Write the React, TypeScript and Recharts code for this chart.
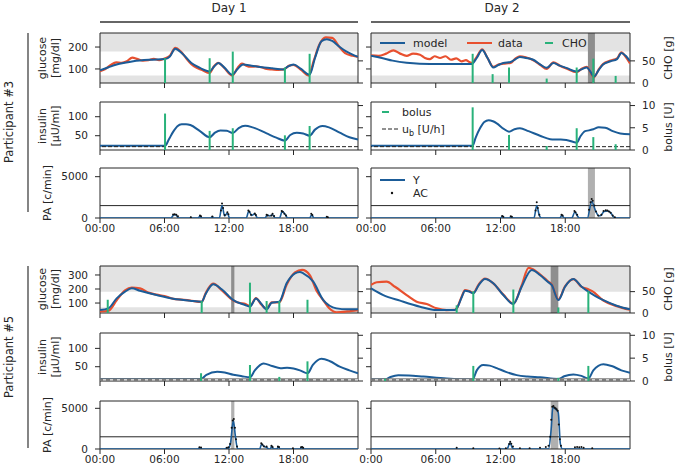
import React from "react";
import {
  ComposedChart,
  Line,
  XAxis,
  YAxis,
  ReferenceArea,
  ReferenceLine,
} from "recharts";

type Pt = [number, number];

const HOURS = [0, 6, 12, 18];
const HOUR_LABELS = ["00:00", "06:00", "12:00", "18:00"];
const HOUR_LABELS_P5D2 = ["0:00", "06:00", "12:00", "18:00"];

// ---- Participant #3, day 1 ----
const p3d1Model: Pt[] = [
  [0, 94], [0.8, 108], [1.55, 120], [2.3, 128], [3.1, 135], [4.65, 142], [6.05, 145],
  [6.5, 157], [7.0, 192], [7.6, 173], [8.5, 127], [9.3, 105], [10.2, 89], [10.6, 110],
  [11.0, 127], [11.6, 105], [12.3, 74], [12.8, 100], [13.3, 120], [14.1, 115], [14.9, 109],
  [16, 103], [17.05, 98], [17.5, 112], [18.0, 120], [18.7, 100], [19.5, 74], [20.0, 150],
  [20.6, 226], [21.1, 236], [21.6, 228], [22.3, 200], [22.9, 180], [23.5, 165], [24, 155],
];
const p3d1Data: Pt[] = [
  [0, 90], [0.5, 100], [1.0, 118], [1.5, 130], [2.0, 128], [2.5, 135], [3.0, 152], [3.5, 145],
  [4.0, 138], [4.5, 140], [5.0, 146], [5.5, 140], [6.0, 148], [6.5, 160], [7.0, 196], [7.5, 180],
  [8.0, 150], [8.5, 122], [9.0, 105], [9.5, 95], [10.2, 82], [10.6, 112], [11.0, 128], [11.5, 108],
  [12.3, 70], [12.8, 105], [13.2, 125], [13.6, 115], [14.0, 110], [14.5, 112], [15.0, 108],
  [15.5, 100], [16.0, 98], [16.6, 96], [17.1, 98], [17.6, 115], [18.0, 118], [18.7, 96],
  [19.4, 70], [19.9, 140], [20.4, 210], [21.0, 244], [21.6, 242], [22.2, 205], [22.8, 172],
  [23.5, 160], [24, 155],
];
const p3d1Cho: Pt[] = [[6.05, 56], [10.2, 56], [12.35, 71], [17.2, 35], [19.5, 66]];
const p3d1Insulin: Pt[] = [
  [0, 23.7], [6.05, 23.7], [6.4, 40], [6.8, 60], [7.2, 75], [7.6, 80], [8.0, 80], [8.4, 78],
  [9.3, 62], [10.2, 46], [10.7, 58], [11.2, 64], [11.8, 63], [12.35, 57], [12.9, 70], [13.5, 76],
  [14.2, 72], [15.5, 56], [16.4, 45], [17.2, 37], [17.7, 52], [18.3, 58], [18.9, 56], [19.5, 50],
  [20.0, 66], [20.7, 75.6], [21.3, 72], [22.3, 58], [23.2, 46], [24, 40],
];
const p3d1Bolus: Pt[] = [[6.05, 8.2], [10.2, 4.3], [12.35, 4.9], [17.2, 3.3], [19.5, 5.4]];
const p3d1PaY: Pt[] = [
  [0, 0], [6.6, 0], [6.85, 350], [7.05, 400], [7.3, 0], [8.35, 0], [8.45, 80], [8.55, 0],
  [9.15, 0], [9.3, 250], [9.45, 0], [10.3, 0], [10.45, 150], [10.6, 0], [11.1, 0], [11.35, 1500],
  [11.6, 250], [11.85, 600], [12.05, 0], [13.6, 0], [13.85, 850], [14.1, 300], [14.4, 500],
  [14.65, 0], [15.35, 0], [15.55, 350], [15.8, 250], [16.05, 400], [16.3, 0], [16.7, 0],
  [16.95, 800], [17.25, 400], [17.45, 0], [19.5, 0], [19.7, 400], [19.9, 0], [20.95, 0],
  [21.1, 100], [21.25, 0], [24, 0],
];
const p3d1PaAc: Pt[] = [
  [6.8, 420], [6.95, 450], [7.1, 380], [7.25, 200], [8.45, 100], [9.3, 300], [9.4, 200],
  [10.45, 180], [11.25, 900], [11.35, 1750], [11.45, 1200], [11.6, 350], [11.85, 700],
  [11.95, 450], [13.8, 900], [13.9, 750], [14.05, 400], [14.4, 550], [14.5, 350], [15.5, 400],
  [15.6, 300], [15.95, 300], [16.05, 500], [16.2, 250], [16.9, 850], [17.0, 750], [17.15, 500],
  [17.3, 300], [19.65, 500], [19.75, 350], [21.1, 150], [21.2, 100],
];

// ---- Participant #3, day 2 ----
const p3d2Model: Pt[] = [
  [0, 160], [1, 150], [2, 138], [3.3, 128], [4.5, 124], [6.4, 123], [8, 123], [9.33, 123],
  [9.8, 150], [10.3, 186], [10.8, 150], [11.33, 107], [11.8, 118], [12.26, 127], [12.94, 132],
  [13.4, 145], [13.8, 155], [14.4, 150], [15.04, 142], [15.7, 120], [16.28, 105], [16.9, 127],
  [17.5, 115], [18.1, 105], [19.06, 89], [19.5, 98], [20.0, 107], [20.3, 90], [20.66, 66],
  [21.1, 95], [21.5, 120], [22.2, 135], [22.8, 145], [23.2, 173], [23.6, 160], [24, 135],
];
const p3d2Data: Pt[] = [
  [0, 162], [0.7, 160], [1.4, 170], [2.07, 185], [2.7, 170], [3.3, 160], [3.9, 170], [4.54, 165],
  [5.0, 150], [5.47, 145], [5.9, 158], [6.4, 150], [6.9, 158], [7.4, 142], [7.9, 148], [8.4, 135],
  [8.8, 140], [9.1, 132], [9.33, 128], [9.8, 155], [10.3, 190], [10.8, 150], [11.33, 110],
  [11.8, 120], [12.26, 124], [12.94, 128], [13.4, 148], [13.8, 158], [14.4, 152], [15.04, 140],
  [15.7, 118], [16.28, 100], [16.9, 130], [17.5, 115], [18.1, 102], [19.06, 85], [19.5, 100],
  [20.0, 110], [20.3, 88], [20.66, 62], [21.1, 98], [21.5, 122], [22.2, 138], [22.8, 148],
  [23.2, 176], [23.6, 155], [24, 125],
];
const p3d2Cho: Pt[] = [[9.42, 66], [11.27, 20], [12.79, 35], [16.28, 10], [19.06, 35], [20.6, 55], [22.67, 16]];
const p3d2Insulin: Pt[] = [
  [0, 23.7], [9.42, 23.7], [9.7, 45], [10.1, 69.5], [10.5, 86], [10.9, 91], [11.3, 88],
  [11.65, 82.6], [12.3, 68], [12.79, 60.5], [13.3, 67], [13.8, 69.5], [14.6, 62], [15.66, 50],
  [16.6, 41], [17.3, 40], [18.1, 39], [19.06, 31.6], [19.4, 48], [19.84, 62], [20.2, 64],
  [20.6, 67], [21.1, 72], [21.7, 71], [22.4, 62], [23.1, 56], [24, 54],
];
const p3d2Bolus: Pt[] = [[9.42, 9.6], [12.79, 3.4], [16.28, 0.9], [19.06, 4.9], [20.6, 2.9], [22.67, 1.3]];
const p3d2PaY: Pt[] = [
  [0, 0], [12.0, 0], [12.2, 200], [12.4, 0], [12.8, 0], [13.0, 150], [13.2, 0], [15.1, 0],
  [15.36, 1500], [15.6, 300], [15.8, 0], [17.5, 0], [17.7, 350], [17.9, 0], [18.6, 0],
  [18.9, 750], [19.1, 300], [19.3, 0], [20.05, 0], [20.45, 2000], [20.8, 900], [21.1, 250],
  [21.3, 300], [21.6, 800], [21.95, 850], [22.2, 650], [22.5, 100], [22.7, 0], [24, 0],
];
const p3d2PaAc: Pt[] = [
  [12.15, 250], [12.25, 150], [12.95, 200], [13.05, 150], [15.25, 900], [15.36, 1900],
  [15.45, 1200], [15.6, 400], [17.65, 400], [17.75, 300], [18.85, 850], [18.95, 700],
  [19.1, 400], [20.2, 1000], [20.35, 1900], [20.45, 2300], [20.55, 2100], [20.7, 1500],
  [20.85, 800], [21.05, 300], [21.35, 400], [21.55, 850], [21.75, 950], [21.9, 900],
  [22.05, 800], [22.2, 650], [22.4, 300], [22.6, 100],
];
const p3d2Exercise: Pt = [20.1, 20.75];

// ---- Participant #5, day 1 ----
const p5d1Model: Pt[] = [
  [0, 50], [0.78, 62], [1.55, 133], [2.33, 181], [2.95, 205], [3.72, 188], [5.27, 157],
  [6.82, 131], [8.37, 117], [9.46, 110], [9.8, 160], [10.08, 198], [10.54, 234], [11.32, 198],
  [12.4, 121], [13.49, 86], [13.95, 74], [14.51, 133], [15.0, 95], [15.5, 55], [15.97, 102],
  [16.68, 110], [17.36, 241], [18.14, 312], [18.6, 322], [18.91, 312], [19.84, 252],
  [20.77, 121], [22.0, 62], [23, 55], [24, 55],
];
const p5d1Data: Pt[] = [
  [0, 40], [0.78, 45], [1.55, 120], [2.33, 190], [2.95, 210], [3.72, 205], [4.5, 175],
  [5.27, 160], [6.0, 150], [6.82, 130], [7.6, 125], [8.37, 118], [9.46, 108], [9.8, 165],
  [10.08, 205], [10.54, 238], [11.32, 192], [12.4, 118], [13.0, 100], [13.49, 95], [13.95, 78],
  [14.51, 135], [15.0, 90], [15.5, 60], [15.97, 105], [16.68, 105], [17.36, 230], [18.14, 318],
  [18.8, 336], [19.5, 300], [20.2, 180], [20.77, 120], [21.3, 65], [22.0, 34], [23, 40], [24, 50],
];
const p5d1Cho: Pt[] = [[0.72, 31], [9.46, 28], [13.95, 71], [15.5, 28], [16.68, 28], [19.3, 31]];
const p5d1Insulin: Pt[] = [
  [0, 16.4], [9.4, 16.4], [9.9, 28], [10.9, 36], [11.6, 34], [12.4, 28], [13.2, 24], [13.95, 21],
  [14.4, 40], [15.2, 59], [16.0, 52], [16.8, 46], [17.4, 47], [18.0, 45], [18.6, 40], [19.3, 32],
  [19.8, 55], [20.6, 72], [21.4, 65], [22.3, 50], [23.2, 40], [24, 32],
];
const p5d1Bolus: Pt[] = [[9.4, 1.7], [13.95, 3.5], [16.68, 0.9], [19.3, 4.3]];
const p5d1PaY: Pt[] = [
  [0, 0], [9.1, 0], [9.3, 150], [9.5, 0], [11.6, 0], [11.8, 150], [11.95, 100], [12.15, 800],
  [12.4, 3500], [12.6, 1500], [12.8, 0], [14.85, 0], [15.04, 600], [15.25, 300], [15.5, 200],
  [15.7, 0], [15.85, 0], [15.97, 350], [16.15, 0], [16.45, 0], [16.6, 250], [16.75, 0],
  [18.6, 0], [18.76, 200], [18.95, 0], [24, 0],
];
const p5d1PaAc: Pt[] = [
  [9.25, 200], [9.4, 180], [11.8, 150], [11.95, 200], [12.1, 600], [12.25, 2600], [12.35, 3500],
  [12.45, 3700], [12.55, 2600], [12.65, 1200], [12.75, 300], [15.0, 700], [15.1, 550],
  [15.25, 350], [15.5, 300], [15.95, 400], [16.05, 250], [16.55, 300], [16.65, 250],
  [17.95, 100], [18.7, 200], [18.8, 250], [18.9, 150],
];
const p5d1Exercise: Pt = [12.2, 12.5];

// ---- Participant #5, day 2 ----
const p5d2Model: Pt[] = [
  [0, 205], [1.14, 157], [2.69, 117], [4.54, 74], [6.09, 50], [7.78, 50], [7.94, 62], [8.4, 140],
  [8.71, 188], [9.1, 182], [9.48, 169], [10.0, 230], [10.56, 271], [11.33, 241], [12.26, 157],
  [13.19, 93], [13.96, 216], [14.89, 336], [15.66, 300], [16.4, 250], [16.74, 229], [17.36, 121],
  [17.98, 216], [18.75, 271], [19.52, 216], [20.14, 181], [20.8, 150], [21.53, 121],
  [22.76, 81], [24, 55],
];
const p5d2Data: Pt[] = [
  [0, 229], [0.53, 248], [1.45, 252], [2.22, 216], [3.3, 157], [4.23, 110], [5.16, 93],
  [6.09, 62], [7.0, 50], [7.78, 52], [7.94, 62], [8.4, 145], [8.71, 192], [9.1, 185],
  [9.48, 172], [10.0, 235], [10.56, 275], [11.33, 240], [12.26, 160], [13.19, 96], [13.96, 225],
  [14.6, 350], [14.89, 345], [15.66, 305], [16.4, 255], [16.74, 232], [17.36, 125], [17.98, 218],
  [18.75, 270], [19.52, 215], [20.14, 198], [20.5, 185], [21.53, 118], [22.76, 78], [24, 52],
];
const p5d2Cho: Pt[] = [[7.94, 18], [9.48, 51], [13.19, 55], [17.36, 13], [20.14, 51]];
const p5d2Insulin: Pt[] = [
  [0, 15.5], [1.3, 15.5], [1.8, 22], [2.53, 27], [3.5, 26], [4.85, 23], [7.0, 18], [9.42, 15.5],
  [9.8, 40], [10.4, 55], [11.0, 53], [11.65, 46], [12.5, 36], [13.5, 27], [14.5, 23],
  [15.66, 21], [17.36, 16.4], [17.9, 24], [18.75, 29], [19.5, 25], [20.14, 18], [20.6, 40],
  [21.53, 57], [22.3, 52], [23.2, 40], [24, 33.6],
];
const p5d2Bolus: Pt[] = [[1.3, 0.5], [9.48, 3.3], [17.36, 0.7], [20.14, 3.3]];
const p5d2PaY: Pt[] = [
  [0, 0], [12.6, 0], [12.88, 750], [13.1, 150], [13.3, 0], [16.45, 0], [16.7, 2500],
  [16.85, 5100], [17.1, 4900], [17.35, 4500], [17.55, 600], [17.75, 0], [24, 0],
];
const p5d2PaAc: Pt[] = [
  [7.94, 150], [9.48, 80], [11.9, 60], [12.5, 100], [12.8, 600], [12.9, 900], [13.0, 650],
  [13.15, 300], [13.8, 100], [14.7, 80], [15.66, 150], [16.2, 250], [16.45, 400], [16.6, 1500],
  [16.7, 3600], [16.8, 5200], [16.9, 5300], [17.0, 5100], [17.1, 5000], [17.2, 4900],
  [17.3, 4700], [17.4, 3000], [17.5, 1200], [17.6, 400], [18.9, 200], [19.1, 250], [19.3, 200],
  [19.5, 250], [19.7, 150], [20.5, 80],
];
const p5d2Exercise: Pt = [16.65, 17.36];

const P3_BASAL = 0.75;
const P5_BASAL = 0.25;
const PA_THRESHOLD = 1500;

const BLUE = "#1b5c98";
const RED = "#e8502f";
const GREEN = "#29b27a";
const BAND = "#e3e3e3";
const INK = "#262626";
const FONT = "DejaVu Sans, sans-serif";

const LW = 60;
const RW = 45;
const TM = 6;
const BH = 26;

const rows = (pts: Pt[]) => pts.map(([t, v]) => ({ t, v }));

type AxisSpec = { domain: [number, number]; ticks: number[]; show: boolean };

type PanelProps = {
  x: number;
  y: number;
  w: number;
  h: number;
  left: AxisSpec;
  right?: AxisSpec;
  xLabels?: string[];
  children?: React.ReactNode;
};

const tickStyle = { fontSize: 10.5, fill: INK, fontFamily: FONT };

function Panel({ x, y, w, h, left, right, xLabels, children }: PanelProps) {
  const rightSpace = right ? RW : 8;
  return (
    <div style={{ position: "absolute", left: x - LW, top: y - TM }}>
      <ComposedChart
        width={LW + w + rightSpace}
        height={TM + h + BH}
        margin={{ top: TM, right: right ? 0 : rightSpace, bottom: 0, left: 0 }}
      >
        <XAxis
          type="number"
          dataKey="t"
          domain={[0, 24]}
          ticks={HOURS}
          interval={0}
          allowDataOverflow
          axisLine={false}
          tickLine={{ stroke: INK }}
          tickSize={5}
          tickMargin={2}
          height={BH}
          tick={tickStyle}
          tickFormatter={(_v: number, i: number) => (xLabels ? xLabels[i] : "")}
        />
        <YAxis
          yAxisId="L"
          type="number"
          domain={left.domain}
          ticks={left.ticks}
          interval={0}
          allowDataOverflow
          width={LW}
          axisLine={false}
          tickLine={{ stroke: INK }}
          tickSize={5}
          tickMargin={7}
          tick={tickStyle}
          tickFormatter={(v: number) => (left.show ? String(v) : "")}
        />
        {right && (
          <YAxis
            yAxisId="R"
            orientation="right"
            type="number"
            domain={right.domain}
            ticks={right.ticks}
            interval={0}
            allowDataOverflow
            width={RW}
            axisLine={false}
            tickLine={{ stroke: INK }}
            tickSize={5}
            tickMargin={7}
            tick={tickStyle}
            tickFormatter={(v: number) => (right.show ? String(v) : "")}
          />
        )}
        {children}
        <ReferenceArea
          yAxisId="L"
          x1={0}
          x2={24}
          y1={left.domain[0]}
          y2={left.domain[1]}
          fill="none"
          stroke={INK}
          strokeWidth={1}
        />
      </ComposedChart>
    </div>
  );
}

function glucoseItems(
  lo: number,
  hi: number,
  model: Pt[],
  data: Pt[],
  cho: Pt[],
  exercise?: Pt,
) {
  return [
    <ReferenceArea key="hi" yAxisId="L" y1={180} y2={hi} fill={BAND} fillOpacity={1} stroke="none" />,
    <ReferenceArea key="lo" yAxisId="L" y1={lo} y2={70} fill={BAND} fillOpacity={1} stroke="none" />,
    exercise ? (
      <ReferenceArea key="ex" yAxisId="L" x1={exercise[0]} x2={exercise[1]} fill="#8e8e8e" fillOpacity={1} stroke="none" />
    ) : null,
    <Line key="data" data={rows(data)} dataKey="v" yAxisId="L" type="monotone" stroke={RED} strokeWidth={2.2} dot={false} isAnimationActive={false} />,
    <Line key="model" data={rows(model)} dataKey="v" yAxisId="L" type="monotone" stroke={BLUE} strokeWidth={2} dot={false} isAnimationActive={false} />,
    ...cho.map(([t, v]) => (
      <ReferenceLine key={"c" + t} yAxisId="R" segment={[{ x: t, y: 0 }, { x: t, y: v }]} stroke={GREEN} strokeWidth={2} />
    )),
  ];
}

function insulinItems(insulin: Pt[], bolus: Pt[], basal: number, grey: boolean) {
  return [
    <Line key="ins" data={rows(insulin)} dataKey="v" yAxisId="L" type="monotone" stroke={BLUE} strokeWidth={2} dot={false} isAnimationActive={false} />,
    grey ? (
      <ReferenceLine key="bg" yAxisId="R" y={basal} stroke="#7a7a7a" strokeWidth={3} />
    ) : null,
    <ReferenceLine
      key="basal"
      yAxisId="R"
      y={basal}
      stroke={grey ? "#ffffff" : "#222"}
      strokeWidth={1}
      strokeDasharray={grey ? "3 4" : "4 2"}
    />,
    ...bolus.map(([t, v]) => (
      <ReferenceLine key={"b" + t} yAxisId="R" segment={[{ x: t, y: 0 }, { x: t, y: v }]} stroke={GREEN} strokeWidth={2} />
    )),
  ];
}

function paItems(y: Pt[], ac: Pt[], exercise?: Pt) {
  return [
    exercise ? (
      <ReferenceArea key="ex" yAxisId="L" x1={exercise[0]} x2={exercise[1]} fill="#b0b0b0" fillOpacity={1} stroke="none" />
    ) : null,
    <ReferenceLine key="thr" yAxisId="L" y={PA_THRESHOLD} stroke={INK} strokeWidth={1} />,
    <Line key="y" data={rows(y)} dataKey="v" yAxisId="L" type="monotone" stroke={BLUE} strokeWidth={1.6} dot={false} isAnimationActive={false} />,
    <Line
      key="ac"
      data={rows(ac)}
      dataKey="v"
      yAxisId="L"
      stroke="none"
      strokeWidth={0}
      dot={{ r: 1, fill: "#111", stroke: "none" }}
      isAnimationActive={false}
    />,
  ];
}

const D1 = { x: 100, w: 258 };
const D2 = { x: 371, w: 259 };

const P3G = { y: 33, h: 50, lo: 36, hi: 264 };
const P3I = { y: 102, h: 48 };
const P3P = { y: 168, h: 50 };
const P5G = { y: 266, h: 47, lo: 29, hi: 364 };
const P5I = { y: 333, h: 48 };
const P5P = { y: 401, h: 48 };

function RotLabel({ x, y, lines }: { x: number; y: number; lines: string[] }) {
  return (
    <g transform={`rotate(-90 ${x} ${y})`}>
      {lines.map((s, i) => (
        <text key={i} x={x} y={y + i * 12.5} textAnchor="middle">
          {s}
        </text>
      ))}
    </g>
  );
}

export default function App() {
  const p3gL = (show: boolean): AxisSpec => ({ domain: [P3G.lo, P3G.hi], ticks: [100, 200], show });
  const p3cR = (show: boolean): AxisSpec => ({ domain: [0, 113], ticks: [0, 50], show });
  const p3iL = (show: boolean): AxisSpec => ({ domain: [12.4, 138.7], ticks: [50, 100], show });
  const p3bR = (show: boolean): AxisSpec => ({ domain: [0, 10.8], ticks: [0, 5, 10], show });
  const p3pL = (show: boolean): AxisSpec => ({ domain: [0, 6050], ticks: [0, 5000], show });
  const p5gL = (show: boolean): AxisSpec => ({ domain: [P5G.lo, P5G.hi], ticks: [100, 200, 300], show });
  const p5cR = (show: boolean): AxisSpec => ({ domain: [0, 110], ticks: [0, 50], show });
  const p5iL = (show: boolean): AxisSpec => ({ domain: [11, 142], ticks: [50, 100], show });
  const p5bR = (show: boolean): AxisSpec => ({ domain: [0, 10.5], ticks: [0, 5, 10], show });
  const p5pL = (show: boolean): AxisSpec => ({ domain: [0, 5900], ticks: [0, 5000], show });

  return (
    <div
      style={{
        position: "absolute",
        left: 0,
        top: 0,
        width: 677,
        height: 473,
        background: "#fff",
        fontFamily: FONT,
      }}
    >
      {/* Participant #3 */}
      <Panel x={D1.x} y={P3G.y} w={D1.w} h={P3G.h} left={p3gL(true)} right={p3cR(false)}>
        {glucoseItems(P3G.lo, P3G.hi, p3d1Model, p3d1Data, p3d1Cho)}
      </Panel>
      <Panel x={D2.x} y={P3G.y} w={D2.w} h={P3G.h} left={p3gL(false)} right={p3cR(true)}>
        {glucoseItems(P3G.lo, P3G.hi, p3d2Model, p3d2Data, p3d2Cho, p3d2Exercise)}
      </Panel>
      <Panel x={D1.x} y={P3I.y} w={D1.w} h={P3I.h} left={p3iL(true)} right={p3bR(false)}>
        {insulinItems(p3d1Insulin, p3d1Bolus, P3_BASAL, false)}
      </Panel>
      <Panel x={D2.x} y={P3I.y} w={D2.w} h={P3I.h} left={p3iL(false)} right={p3bR(true)}>
        {insulinItems(p3d2Insulin, p3d2Bolus, P3_BASAL, false)}
      </Panel>
      <Panel x={D1.x} y={P3P.y} w={D1.w} h={P3P.h} left={p3pL(true)} xLabels={HOUR_LABELS}>
        {paItems(p3d1PaY, p3d1PaAc)}
      </Panel>
      <Panel x={D2.x} y={P3P.y} w={D2.w} h={P3P.h} left={p3pL(false)} xLabels={HOUR_LABELS}>
        {paItems(p3d2PaY, p3d2PaAc, p3d2Exercise)}
      </Panel>

      {/* Participant #5 */}
      <Panel x={D1.x} y={P5G.y} w={D1.w} h={P5G.h} left={p5gL(true)} right={p5cR(false)}>
        {glucoseItems(P5G.lo, P5G.hi, p5d1Model, p5d1Data, p5d1Cho, p5d1Exercise)}
      </Panel>
      <Panel x={D2.x} y={P5G.y} w={D2.w} h={P5G.h} left={p5gL(false)} right={p5cR(true)}>
        {glucoseItems(P5G.lo, P5G.hi, p5d2Model, p5d2Data, p5d2Cho, p5d2Exercise)}
      </Panel>
      <Panel x={D1.x} y={P5I.y} w={D1.w} h={P5I.h} left={p5iL(true)} right={p5bR(false)}>
        {insulinItems(p5d1Insulin, p5d1Bolus, P5_BASAL, true)}
      </Panel>
      <Panel x={D2.x} y={P5I.y} w={D2.w} h={P5I.h} left={p5iL(false)} right={p5bR(true)}>
        {insulinItems(p5d2Insulin, p5d2Bolus, P5_BASAL, true)}
      </Panel>
      <Panel x={D1.x} y={P5P.y} w={D1.w} h={P5P.h} left={p5pL(true)} xLabels={HOUR_LABELS}>
        {paItems(p5d1PaY, p5d1PaAc, p5d1Exercise)}
      </Panel>
      <Panel x={D2.x} y={P5P.y} w={D2.w} h={P5P.h} left={p5pL(false)} xLabels={HOUR_LABELS_P5D2}>
        {paItems(p5d2PaY, p5d2PaAc, p5d2Exercise)}
      </Panel>

      {/* titles, axis labels and legends */}
      <svg
        width={677}
        height={473}
        style={{ position: "absolute", left: 0, top: 0, pointerEvents: "none" }}
        fontFamily={FONT}
        fill={INK}
      >
        <text x={229} y={12} fontSize={12} textAnchor="middle">Day 1</text>
        <text x={502} y={12} fontSize={12} textAnchor="middle">Day 2</text>
        <line x1={100} y1={22} x2={358} y2={22} stroke="#333" strokeWidth={1.3} />
        <line x1={371} y1={22} x2={630} y2={22} stroke="#333" strokeWidth={1.3} />

        <g fontSize={11.5}>
          <text x={13} y={122} transform="rotate(-90 13 122)" textAnchor="middle">Participant #3</text>
          <text x={13} y={357} transform="rotate(-90 13 357)" textAnchor="middle">Participant #5</text>
        </g>
        <line x1={28} y1={33} x2={28} y2={212} stroke="#333" strokeWidth={1.2} />
        <line x1={28} y1={266} x2={28} y2={448} stroke="#333" strokeWidth={1.2} />

        <g fontSize={11}>
          <RotLabel x={46} y={58} lines={["glucose", "[mg/dl]"]} />
          <RotLabel x={46} y={126} lines={["insulin", "[\u03bcU/ml]"]} />
          <RotLabel x={51} y={193} lines={["PA [c/min]"]} />
          <RotLabel x={46} y={289} lines={["glucose", "[mg/dl]"]} />
          <RotLabel x={46} y={357} lines={["insulin", "[\u03bcU/ml]"]} />
          <RotLabel x={51} y={425} lines={["PA [c/min]"]} />
          <RotLabel x={672} y={58} lines={["CHO [g]"]} />
          <RotLabel x={672} y={127} lines={["bolus [U]"]} />
          <RotLabel x={672} y={289} lines={["CHO [g]"]} />
          <RotLabel x={672} y={357} lines={["bolus [U]"]} />
        </g>

        <g fontSize={11}>
          <line x1={380} y1={43} x2={405} y2={43} stroke={BLUE} strokeWidth={2} />
          <text x={413} y={47}>model</text>
          <line x1={467} y1={43} x2={492} y2={43} stroke={RED} strokeWidth={2} />
          <text x={498} y={47}>data</text>
          <line x1={545} y1={43} x2={553} y2={43} stroke={GREEN} strokeWidth={2} />
          <text x={562} y={47}>CHO</text>

          <line x1={382} y1={112} x2={389} y2={112} stroke={GREEN} strokeWidth={2} />
          <text x={402} y={116}>bolus</text>
          <line x1={382} y1={129} x2={398} y2={129} stroke="#222" strokeWidth={1} strokeDasharray="4 2" />
          <text x={402} y={133}>
            u<tspan dy={3} fontSize={8}>b</tspan>
            <tspan dy={-3}> [U/h]</tspan>
          </text>

          <line x1={380} y1={180} x2={405} y2={180} stroke={BLUE} strokeWidth={2} />
          <text x={413} y={184}>Y</text>
          <circle cx={392} cy={193} r={1.2} fill="#111" />
          <text x={413} y={197}>AC</text>
        </g>
      </svg>
    </div>
  );
}
